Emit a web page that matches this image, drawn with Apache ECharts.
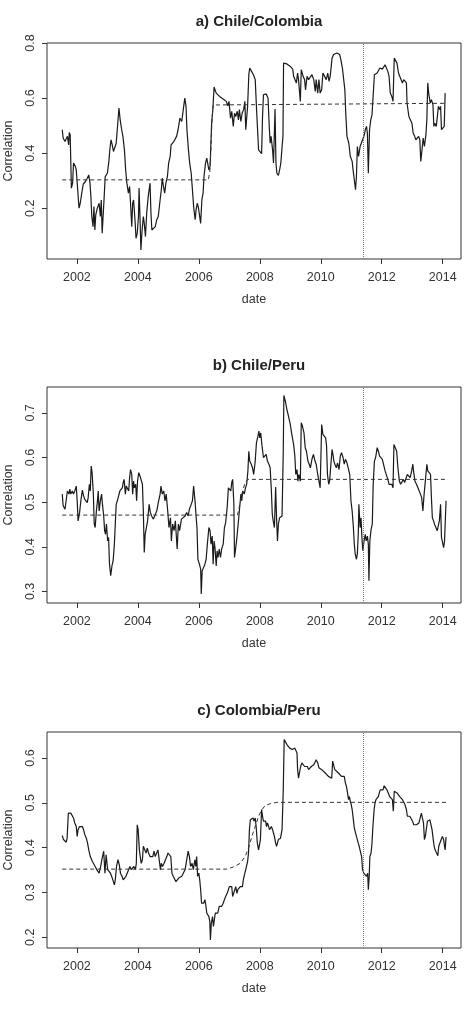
<!DOCTYPE html>
<html>
<head>
<meta charset="utf-8">
<title>Rolling correlations</title>
<script src="https://cdn.jsdelivr.net/npm/echarts@6/dist/echarts.min.js"></script>
<style>
  html, body { margin: 0; padding: 0; background: #fff; }
  #chart { width: 469px; height: 1010px; }
</style>
</head>
<body>
<div id="chart"></div>
<script>
// tick labels
const yearTicks = [2002, 2004, 2006, 2008, 2010, 2012, 2014]
const ticksA = [0.2, 0.4, 0.6, 0.8]
const ticksB = [0.3, 0.4, 0.5, 0.6, 0.7]
const ticksC = [0.2, 0.3, 0.4, 0.5, 0.6]
const breakDate = 2011.41

// a) Chile/Colombia  [decimal year, correlation]
const chileColombia = [
  [2001.52,0.485],[2001.55,0.455],[2001.61,0.442],[2001.66,0.439],[2001.69,0.461],[2001.73,0.430],[2001.75,0.475],
  [2001.78,0.467],[2001.82,0.273],[2001.86,0.291],[2001.89,0.364],[2001.95,0.352],[2001.98,0.339],[2002.02,0.279],
  [2002.07,0.200],[2002.11,0.218],[2002.16,0.255],[2002.21,0.288],[2002.28,0.297],[2002.34,0.309],[2002.39,0.321],
  [2002.43,0.291],[2002.46,0.242],[2002.49,0.170],[2002.53,0.133],[2002.56,0.206],[2002.59,0.121],[2002.62,0.176],
  [2002.67,0.200],[2002.73,0.218],[2002.77,0.170],[2002.80,0.230],[2002.83,0.109],[2002.89,0.230],[2002.93,0.315],
  [2003.00,0.327],[2003.05,0.370],[2003.08,0.412],[2003.12,0.448],[2003.16,0.430],[2003.20,0.406],[2003.25,0.400],
  [2003.29,0.436],[2003.35,0.521],[2003.38,0.564],[2003.42,0.521],[2003.47,0.485],[2003.51,0.461],[2003.56,0.412],
  [2003.60,0.339],[2003.64,0.291],[2003.69,0.255],[2003.73,0.279],[2003.76,0.218],[2003.80,0.133],[2003.83,0.218],
  [2003.86,0.230],[2003.91,0.152],[2003.94,0.091],[2003.98,0.109],[2004.02,0.170],[2004.04,0.273],[2004.07,0.170],
  [2004.10,0.048],[2004.14,0.121],[2004.18,0.170],[2004.21,0.145],[2004.25,0.097],[2004.29,0.182],[2004.34,0.242],
  [2004.40,0.291],[2004.43,0.182],[2004.46,0.121],[2004.52,0.121],[2004.57,0.133],[2004.62,0.158],[2004.67,0.170],
  [2004.73,0.230],[2004.77,0.267],[2004.80,0.309],[2004.84,0.279],[2004.88,0.255],[2004.92,0.291],[2004.97,0.315],
  [2005.01,0.364],[2005.06,0.388],[2005.09,0.430],[2005.13,0.424],[2005.18,0.442],[2005.22,0.448],[2005.27,0.461],
  [2005.32,0.485],[2005.38,0.527],[2005.44,0.515],[2005.49,0.558],[2005.54,0.600],[2005.58,0.570],[2005.61,0.485],
  [2005.66,0.412],[2005.70,0.364],[2005.75,0.327],[2005.79,0.267],[2005.83,0.206],[2005.88,0.158],[2005.91,0.194],
  [2005.95,0.218],[2005.99,0.200],[2006.02,0.206],[2006.06,0.145],[2006.10,0.230],[2006.14,0.255],[2006.17,0.315],
  [2006.22,0.364],[2006.26,0.382],[2006.29,0.364],[2006.33,0.339],[2006.37,0.352],[2006.42,0.509],[2006.46,0.558],
  [2006.50,0.640],[2006.57,0.618],[2006.62,0.612],[2006.68,0.606],[2006.75,0.600],[2006.83,0.594],[2006.90,0.588],
  [2006.95,0.572],[2006.99,0.588],[2007.04,0.527],[2007.08,0.552],[2007.13,0.497],[2007.17,0.545],[2007.21,0.533],
  [2007.26,0.552],[2007.30,0.521],[2007.33,0.558],[2007.38,0.515],[2007.42,0.545],[2007.47,0.558],[2007.51,0.588],
  [2007.54,0.485],[2007.60,0.570],[2007.64,0.685],[2007.67,0.709],[2007.73,0.697],[2007.79,0.685],[2007.85,0.667],
  [2007.90,0.545],[2007.96,0.412],[2008.01,0.406],[2008.06,0.398],[2008.09,0.533],[2008.12,0.612],[2008.21,0.615],
  [2008.27,0.600],[2008.31,0.497],[2008.34,0.436],[2008.37,0.461],[2008.42,0.412],[2008.45,0.364],[2008.50,0.560],
  [2008.53,0.364],[2008.56,0.327],[2008.61,0.319],[2008.65,0.339],[2008.69,0.364],[2008.74,0.436],[2008.76,0.461],
  [2008.78,0.727],[2008.89,0.724],[2009.00,0.715],[2009.08,0.705],[2009.11,0.679],[2009.15,0.679],[2009.20,0.655],
  [2009.24,0.691],[2009.27,0.667],[2009.33,0.588],[2009.36,0.703],[2009.42,0.679],[2009.47,0.667],[2009.50,0.630],
  [2009.55,0.679],[2009.60,0.667],[2009.66,0.673],[2009.71,0.685],[2009.77,0.667],[2009.82,0.624],[2009.85,0.667],
  [2009.90,0.618],[2009.94,0.667],[2009.98,0.618],[2010.03,0.630],[2010.07,0.691],[2010.13,0.697],[2010.18,0.667],
  [2010.23,0.691],[2010.27,0.661],[2010.31,0.679],[2010.37,0.745],[2010.42,0.758],[2010.48,0.754],[2010.53,0.764],
  [2010.59,0.770],[2010.62,0.758],[2010.66,0.739],[2010.71,0.709],[2010.75,0.703],[2010.79,0.630],[2010.82,0.545],
  [2010.86,0.461],[2010.92,0.436],[2010.97,0.388],[2011.03,0.370],[2011.06,0.339],[2011.10,0.333],[2011.14,0.267],
  [2011.17,0.315],[2011.20,0.424],[2011.24,0.388],[2011.29,0.424],[2011.33,0.436],[2011.37,0.448],[2011.43,0.467],
  [2011.46,0.485],[2011.50,0.497],[2011.53,0.473],[2011.56,0.327],[2011.60,0.485],[2011.64,0.521],[2011.68,0.539],
  [2011.73,0.630],[2011.76,0.685],[2011.80,0.679],[2011.85,0.691],[2011.89,0.691],[2011.94,0.709],[2011.98,0.715],
  [2012.02,0.705],[2012.07,0.709],[2012.11,0.721],[2012.15,0.715],[2012.20,0.697],[2012.24,0.679],[2012.28,0.618],
  [2012.33,0.606],[2012.37,0.588],[2012.41,0.745],[2012.46,0.739],[2012.50,0.727],[2012.55,0.691],[2012.59,0.679],
  [2012.64,0.673],[2012.68,0.655],[2012.72,0.667],[2012.77,0.667],[2012.81,0.655],[2012.83,0.582],[2012.89,0.533],
  [2012.94,0.527],[2012.99,0.509],[2013.03,0.473],[2013.08,0.461],[2013.12,0.448],[2013.16,0.448],[2013.21,0.461],
  [2013.25,0.448],[2013.28,0.370],[2013.31,0.400],[2013.36,0.455],[2013.40,0.424],[2013.45,0.467],[2013.48,0.521],
  [2013.51,0.655],[2013.54,0.618],[2013.59,0.582],[2013.63,0.594],[2013.68,0.576],[2013.71,0.497],[2013.74,0.509],
  [2013.79,0.497],[2013.83,0.497],[2013.86,0.570],[2013.90,0.558],[2013.93,0.570],[2013.96,0.485],[2014.00,0.479],
  [2014.05,0.497],[2014.08,0.618]
]
const chileColombiaFit = [
  [2001.52,0.303],[2006.31,0.303],[2006.36,0.330],[2006.40,0.420],[2006.43,0.520],[2006.47,0.575],[2006.52,0.581],[2014.08,0.581]
]

// b) Chile/Peru
const chilePeru = [
  [2001.52,0.518],[2001.55,0.492],[2001.61,0.484],[2001.66,0.488],[2001.69,0.525],[2001.74,0.518],[2001.77,0.529],
  [2001.80,0.518],[2001.85,0.525],[2001.89,0.518],[2001.93,0.525],[2001.98,0.536],[2002.01,0.503],[2002.04,0.458],
  [2002.09,0.477],[2002.13,0.503],[2002.18,0.527],[2002.22,0.514],[2002.26,0.506],[2002.31,0.510],[2002.34,0.499],
  [2002.37,0.510],[2002.41,0.540],[2002.44,0.525],[2002.47,0.581],[2002.50,0.566],[2002.54,0.518],[2002.57,0.451],
  [2002.60,0.443],[2002.64,0.480],[2002.67,0.499],[2002.70,0.525],[2002.73,0.480],[2002.77,0.503],[2002.81,0.518],
  [2002.84,0.495],[2002.88,0.469],[2002.91,0.436],[2002.94,0.428],[2002.97,0.451],[2003.01,0.413],[2003.04,0.421],
  [2003.07,0.361],[2003.11,0.335],[2003.15,0.357],[2003.19,0.369],[2003.23,0.406],[2003.26,0.451],[2003.29,0.495],
  [2003.34,0.506],[2003.37,0.503],[2003.41,0.525],[2003.46,0.529],[2003.49,0.532],[2003.52,0.544],[2003.55,0.551],
  [2003.59,0.518],[2003.62,0.536],[2003.66,0.540],[2003.70,0.525],[2003.73,0.555],[2003.76,0.573],[2003.80,0.562],
  [2003.83,0.518],[2003.86,0.547],[2003.89,0.532],[2003.93,0.540],[2003.96,0.503],[2003.99,0.547],[2004.03,0.566],
  [2004.07,0.559],[2004.11,0.556],[2004.15,0.540],[2004.18,0.480],[2004.21,0.387],[2004.24,0.428],[2004.28,0.443],
  [2004.32,0.458],[2004.37,0.495],[2004.41,0.477],[2004.45,0.469],[2004.51,0.462],[2004.56,0.465],[2004.62,0.480],
  [2004.67,0.499],[2004.73,0.518],[2004.76,0.536],[2004.80,0.518],[2004.85,0.525],[2004.89,0.503],[2004.93,0.518],
  [2004.98,0.480],[2005.02,0.443],[2005.07,0.465],[2005.10,0.413],[2005.14,0.451],[2005.19,0.436],[2005.23,0.458],
  [2005.29,0.395],[2005.33,0.451],[2005.37,0.436],[2005.43,0.462],[2005.49,0.458],[2005.55,0.469],[2005.60,0.477],
  [2005.65,0.469],[2005.69,0.484],[2005.75,0.495],[2005.79,0.503],[2005.83,0.536],[2005.88,0.499],[2005.91,0.469],
  [2005.94,0.443],[2005.97,0.372],[2006.02,0.361],[2006.06,0.350],[2006.08,0.294],[2006.11,0.346],[2006.15,0.343],
  [2006.20,0.361],[2006.24,0.372],[2006.28,0.406],[2006.33,0.443],[2006.37,0.436],[2006.40,0.406],[2006.44,0.424],
  [2006.47,0.361],[2006.50,0.413],[2006.53,0.398],[2006.57,0.357],[2006.60,0.391],[2006.63,0.376],[2006.67,0.395],
  [2006.71,0.376],[2006.75,0.395],[2006.80,0.406],[2006.84,0.443],[2006.88,0.454],[2006.93,0.488],[2006.97,0.532],
  [2007.02,0.536],[2007.05,0.525],[2007.08,0.544],[2007.11,0.551],[2007.15,0.495],[2007.17,0.376],[2007.20,0.391],
  [2007.25,0.421],[2007.28,0.443],[2007.31,0.465],[2007.34,0.488],[2007.38,0.518],[2007.41,0.503],[2007.44,0.525],
  [2007.49,0.518],[2007.53,0.532],[2007.57,0.540],[2007.61,0.570],[2007.64,0.614],[2007.67,0.592],[2007.72,0.585],
  [2007.76,0.577],[2007.80,0.562],[2007.85,0.592],[2007.89,0.633],[2007.94,0.648],[2007.97,0.659],[2008.00,0.644],
  [2008.03,0.655],[2008.08,0.622],[2008.12,0.600],[2008.17,0.596],[2008.21,0.607],[2008.25,0.592],[2008.30,0.585],
  [2008.34,0.577],[2008.38,0.525],[2008.41,0.473],[2008.44,0.458],[2008.48,0.443],[2008.52,0.534],[2008.55,0.465],
  [2008.58,0.413],[2008.61,0.451],[2008.65,0.465],[2008.69,0.462],[2008.73,0.469],[2008.77,0.614],[2008.79,0.739],
  [2008.84,0.726],[2008.89,0.707],[2008.94,0.693],[2009.00,0.674],[2009.05,0.652],[2009.11,0.629],[2009.15,0.603],
  [2009.18,0.562],[2009.22,0.573],[2009.25,0.547],[2009.28,0.562],[2009.33,0.547],[2009.36,0.678],[2009.40,0.670],
  [2009.45,0.655],[2009.49,0.622],[2009.53,0.614],[2009.58,0.592],[2009.62,0.585],[2009.66,0.577],[2009.71,0.596],
  [2009.76,0.607],[2009.81,0.592],[2009.85,0.585],[2009.90,0.562],[2009.94,0.547],[2009.98,0.532],[2010.03,0.674],
  [2010.07,0.652],[2010.11,0.652],[2010.16,0.644],[2010.19,0.626],[2010.22,0.562],[2010.26,0.540],[2010.29,0.547],
  [2010.33,0.544],[2010.37,0.618],[2010.40,0.607],[2010.43,0.592],[2010.46,0.585],[2010.51,0.577],[2010.55,0.588],
  [2010.60,0.573],[2010.64,0.603],[2010.68,0.611],[2010.73,0.600],[2010.77,0.585],[2010.81,0.596],[2010.86,0.588],
  [2010.90,0.577],[2010.95,0.562],[2010.99,0.503],[2011.03,0.480],[2011.07,0.443],[2011.10,0.406],[2011.13,0.384],
  [2011.17,0.372],[2011.20,0.384],[2011.23,0.428],[2011.25,0.495],[2011.29,0.443],[2011.32,0.465],[2011.35,0.421],
  [2011.38,0.391],[2011.42,0.413],[2011.46,0.428],[2011.49,0.413],[2011.53,0.424],[2011.56,0.406],[2011.58,0.324],
  [2011.61,0.413],[2011.65,0.439],[2011.69,0.451],[2011.72,0.540],[2011.76,0.592],[2011.80,0.600],[2011.85,0.622],
  [2011.89,0.614],[2011.93,0.603],[2011.98,0.600],[2012.02,0.596],[2012.07,0.592],[2012.11,0.570],[2012.15,0.566],
  [2012.20,0.551],[2012.24,0.540],[2012.28,0.536],[2012.33,0.540],[2012.37,0.532],[2012.40,0.629],[2012.45,0.626],
  [2012.49,0.614],[2012.53,0.577],[2012.58,0.547],[2012.62,0.540],[2012.67,0.540],[2012.71,0.551],[2012.75,0.544],
  [2012.80,0.547],[2012.84,0.562],[2012.89,0.559],[2012.93,0.555],[2012.97,0.566],[2013.02,0.585],[2013.05,0.566],
  [2013.09,0.547],[2013.14,0.540],[2013.18,0.536],[2013.23,0.525],[2013.27,0.518],[2013.31,0.510],[2013.35,0.480],
  [2013.39,0.518],[2013.43,0.547],[2013.48,0.585],[2013.51,0.570],[2013.55,0.573],[2013.60,0.562],[2013.63,0.510],
  [2013.66,0.465],[2013.70,0.458],[2013.73,0.451],[2013.77,0.454],[2013.82,0.436],[2013.86,0.436],[2013.89,0.458],
  [2013.93,0.495],[2013.96,0.421],[2013.99,0.417],[2014.03,0.398],[2014.06,0.413],[2014.11,0.503]
]
const chilePeruFit = [
  [2001.52,0.471],[2007.27,0.471],[2007.33,0.490],[2007.42,0.520],[2007.50,0.540],[2007.60,0.551],[2014.11,0.551]
]

// c) Colombia/Peru
const colombiaPeru = [
  [2001.52,0.427],[2001.56,0.418],[2001.61,0.414],[2001.65,0.412],[2001.68,0.421],[2001.72,0.477],[2001.76,0.473],
  [2001.80,0.477],[2001.85,0.473],[2001.89,0.466],[2001.93,0.455],[2001.98,0.447],[2002.01,0.425],[2002.04,0.440],
  [2002.09,0.447],[2002.13,0.451],[2002.18,0.447],[2002.22,0.440],[2002.26,0.429],[2002.31,0.421],[2002.35,0.410],
  [2002.39,0.395],[2002.44,0.380],[2002.48,0.384],[2002.51,0.369],[2002.56,0.365],[2002.60,0.358],[2002.65,0.351],
  [2002.69,0.347],[2002.73,0.343],[2002.78,0.358],[2002.82,0.373],[2002.88,0.392],[2002.92,0.343],[2002.96,0.384],
  [2003.01,0.351],[2003.05,0.347],[2003.10,0.343],[2003.14,0.336],[2003.18,0.328],[2003.23,0.317],[2003.26,0.328],
  [2003.30,0.358],[2003.35,0.373],[2003.39,0.362],[2003.43,0.343],[2003.48,0.336],[2003.52,0.328],[2003.57,0.332],
  [2003.61,0.336],[2003.65,0.343],[2003.70,0.351],[2003.74,0.358],[2003.78,0.351],[2003.83,0.347],[2003.87,0.358],
  [2003.92,0.351],[2003.95,0.365],[2003.98,0.451],[2004.01,0.440],[2004.05,0.395],[2004.08,0.380],[2004.11,0.365],
  [2004.15,0.373],[2004.18,0.403],[2004.22,0.399],[2004.27,0.388],[2004.31,0.399],[2004.35,0.388],[2004.40,0.380],
  [2004.44,0.384],[2004.49,0.380],[2004.53,0.392],[2004.57,0.380],[2004.62,0.384],[2004.66,0.395],[2004.70,0.397],
  [2004.74,0.351],[2004.77,0.365],[2004.81,0.358],[2004.86,0.365],[2004.90,0.369],[2004.95,0.380],[2004.99,0.388],
  [2005.03,0.392],[2005.08,0.380],[2005.12,0.343],[2005.16,0.336],[2005.21,0.332],[2005.25,0.324],[2005.30,0.328],
  [2005.34,0.332],[2005.44,0.336],[2005.49,0.343],[2005.55,0.351],[2005.60,0.351],[2005.65,0.392],[2005.69,0.380],
  [2005.73,0.358],[2005.78,0.365],[2005.82,0.351],[2005.87,0.373],[2005.90,0.358],[2005.93,0.380],[2005.96,0.336],
  [2006.00,0.343],[2006.03,0.328],[2006.06,0.306],[2006.09,0.276],[2006.13,0.280],[2006.16,0.276],[2006.20,0.284],
  [2006.23,0.272],[2006.26,0.254],[2006.29,0.257],[2006.33,0.246],[2006.36,0.235],[2006.38,0.194],[2006.41,0.231],
  [2006.45,0.246],[2006.48,0.224],[2006.51,0.239],[2006.54,0.254],[2006.58,0.257],[2006.62,0.254],[2006.67,0.269],
  [2006.71,0.272],[2006.75,0.269],[2006.80,0.276],[2006.84,0.284],[2006.88,0.291],[2006.93,0.298],[2006.97,0.306],
  [2007.00,0.313],[2007.04,0.317],[2007.08,0.313],[2007.11,0.291],[2007.15,0.287],[2007.18,0.306],[2007.21,0.313],
  [2007.25,0.298],[2007.28,0.306],[2007.31,0.310],[2007.36,0.313],[2007.40,0.317],[2007.43,0.313],[2007.46,0.328],
  [2007.51,0.343],[2007.55,0.354],[2007.60,0.369],[2007.63,0.388],[2007.66,0.440],[2007.69,0.462],[2007.74,0.466],
  [2007.78,0.466],[2007.81,0.459],[2007.85,0.466],[2007.88,0.447],[2007.92,0.410],[2007.96,0.395],[2007.99,0.406],
  [2008.02,0.418],[2008.06,0.485],[2008.09,0.470],[2008.12,0.459],[2008.15,0.462],[2008.19,0.459],[2008.22,0.447],
  [2008.25,0.455],[2008.29,0.447],[2008.32,0.440],[2008.35,0.440],[2008.38,0.447],[2008.42,0.440],[2008.45,0.432],
  [2008.48,0.425],[2008.52,0.410],[2008.55,0.403],[2008.58,0.406],[2008.61,0.418],[2008.65,0.421],[2008.68,0.421],
  [2008.71,0.425],[2008.73,0.440],[2008.77,0.529],[2008.80,0.641],[2008.84,0.637],[2008.89,0.630],[2008.93,0.626],
  [2008.98,0.622],[2009.02,0.620],[2009.06,0.619],[2009.11,0.617],[2009.15,0.622],[2009.18,0.619],[2009.22,0.611],
  [2009.24,0.574],[2009.27,0.555],[2009.30,0.552],[2009.34,0.581],[2009.38,0.589],[2009.42,0.585],[2009.47,0.581],
  [2009.51,0.578],[2009.56,0.581],[2009.60,0.574],[2009.64,0.578],[2009.69,0.581],[2009.73,0.578],[2009.77,0.585],
  [2009.82,0.589],[2009.85,0.596],[2009.90,0.589],[2009.94,0.578],[2009.98,0.581],[2010.03,0.574],[2010.08,0.570],
  [2010.14,0.567],[2010.19,0.563],[2010.25,0.559],[2010.30,0.555],[2010.36,0.555],[2010.39,0.593],[2010.42,0.589],
  [2010.46,0.574],[2010.52,0.570],[2010.57,0.567],[2010.63,0.563],[2010.68,0.559],[2010.73,0.563],[2010.77,0.559],
  [2010.81,0.544],[2010.84,0.537],[2010.87,0.526],[2010.91,0.507],[2010.94,0.514],[2010.97,0.503],[2011.00,0.496],
  [2011.03,0.485],[2011.07,0.462],[2011.10,0.444],[2011.13,0.440],[2011.17,0.425],[2011.20,0.418],[2011.23,0.410],
  [2011.26,0.403],[2011.30,0.399],[2011.34,0.380],[2011.37,0.351],[2011.41,0.343],[2011.44,0.347],[2011.47,0.339],
  [2011.50,0.336],[2011.54,0.343],[2011.56,0.306],[2011.59,0.336],[2011.61,0.380],[2011.65,0.388],[2011.68,0.410],
  [2011.71,0.447],[2011.75,0.485],[2011.78,0.500],[2011.81,0.507],[2011.85,0.507],[2011.89,0.514],[2011.92,0.522],
  [2011.95,0.529],[2012.00,0.533],[2012.04,0.529],[2012.08,0.538],[2012.13,0.535],[2012.17,0.529],[2012.22,0.526],
  [2012.26,0.514],[2012.30,0.518],[2012.35,0.507],[2012.38,0.481],[2012.41,0.526],[2012.46,0.526],[2012.50,0.522],
  [2012.54,0.518],[2012.59,0.514],[2012.63,0.511],[2012.68,0.507],[2012.72,0.503],[2012.76,0.496],[2012.81,0.485],
  [2012.84,0.470],[2012.87,0.466],[2012.92,0.470],[2012.96,0.466],[2013.01,0.459],[2013.05,0.451],[2013.09,0.447],
  [2013.14,0.451],[2013.18,0.451],[2013.22,0.455],[2013.27,0.459],[2013.30,0.477],[2013.33,0.473],[2013.37,0.455],
  [2013.40,0.418],[2013.43,0.425],[2013.47,0.425],[2013.50,0.459],[2013.53,0.462],[2013.58,0.462],[2013.62,0.459],
  [2013.65,0.440],[2013.69,0.418],[2013.72,0.403],[2013.75,0.395],[2013.80,0.388],[2013.84,0.382],[2013.87,0.403],
  [2013.91,0.406],[2013.95,0.418],[2013.99,0.425],[2014.03,0.418],[2014.06,0.403],[2014.08,0.395],[2014.11,0.424]
]
const colombiaPeruFit = [
  [2001.52,0.352],[2006.92,0.352],[2007.14,0.357],[2007.36,0.365],[2007.52,0.380],[2007.63,0.399],[2007.74,0.425],
  [2007.85,0.447],[2007.96,0.470],[2008.07,0.485],[2008.18,0.494],[2008.34,0.498],[2008.56,0.501],[2014.11,0.501]
]

const panels = [
  { title: 'a) Chile/Colombia', data: chileColombia, fit: chileColombiaFit, ticks: ticksA, min: 0.0156, max: 0.8, top: 43 },
  { title: 'b) Chile/Peru', data: chilePeru, fit: chilePeruFit, ticks: ticksB, min: 0.274, max: 0.758, top: 387 },
  { title: 'c) Colombia/Peru', data: colombiaPeru, fit: colombiaPeruFit, ticks: ticksC, min: 0.176, max: 0.658, top: 732 }
]

const font = 'Liberation Sans, Arial, Helvetica, sans-serif'
const textColor = '#333'
const plotHeight = 216

const chart = echarts.init(document.getElementById('chart'), null, { renderer: 'canvas' })

const option = {
  animation: false,
  backgroundColor: '#fff',
  title: panels.map(p => ({
    text: p.title,
    left: 254,
    textAlign: 'center',
    top: p.top - 34,
    textStyle: { fontFamily: font, fontSize: 15, fontWeight: 'bold', color: '#222' }
  })),
  grid: panels.map(p => ({
    left: 47, right: 8, top: p.top, height: plotHeight,
    containLabel: false, outerBoundsMode: 'none',
    show: true, borderColor: '#333', borderWidth: 1, backgroundColor: 'transparent'
  })),
  xAxis: panels.map((p, i) => ({
    type: 'value',
    gridIndex: i,
    min: 2001.02,
    max: 2014.6,
    name: 'date',
    nameLocation: 'middle',
    nameGap: 34,
    nameTextStyle: { fontFamily: font, fontSize: 12.5, color: textColor },
    axisLine: { show: false },
    splitLine: { show: false },
    axisTick: { show: true, length: 5, customValues: yearTicks, lineStyle: { color: '#333' } },
    axisLabel: {
      customValues: yearTicks, margin: 12,
      fontFamily: font, fontSize: 12.5, color: textColor,
      formatter: v => String(v)
    }
  })),
  yAxis: panels.map((p, i) => ({
    type: 'value',
    gridIndex: i,
    min: p.min,
    max: p.max,
    name: 'Correlation',
    nameLocation: 'middle',
    nameGap: 32,
    nameTextStyle: { fontFamily: font, fontSize: 12.5, color: textColor },
    axisLine: { show: false },
    splitLine: { show: false },
    axisTick: { show: true, length: 5, customValues: p.ticks, lineStyle: { color: '#333' } },
    axisLabel: {
      customValues: p.ticks, rotate: 90, margin: 10,
      fontFamily: font, fontSize: 12.5, color: textColor,
      formatter: v => v.toFixed(1)
    }
  })),
  series: panels.flatMap((p, i) => [
    {
      type: 'line',
      xAxisIndex: i, yAxisIndex: i,
      data: p.data,
      showSymbol: false,
      lineStyle: { color: '#1a1a1a', width: 1.2 },
      markLine: {
        silent: true, symbol: 'none',
        label: { show: false },
        lineStyle: { type: 'dotted', color: '#777', width: 1 },
        data: [{ xAxis: breakDate }]
      }
    },
    {
      type: 'line',
      xAxisIndex: i, yAxisIndex: i,
      data: p.fit,
      showSymbol: false,
      lineStyle: { color: '#333', width: 1, type: [4, 3] }
    }
  ])
}

chart.setOption(option)
</script>
</body>
</html>
